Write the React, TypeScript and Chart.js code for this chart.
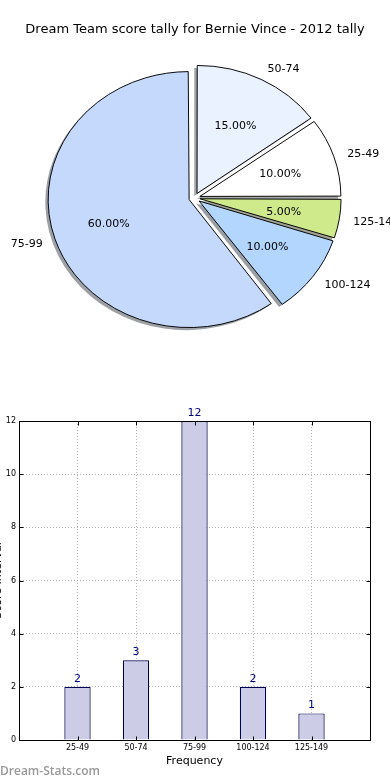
import { useEffect, useRef } from 'react';
import { Chart, registerables } from 'chart.js';

Chart.register(...registerables);

const FONT = '"DejaVu Sans", sans-serif';

const chartTitle = 'Dream Team score tally for Bernie Vince - 2012 tally';
const categories = ['25-49', '50-74', '75-99', '100-124', '125-149'];
const counts = [2, 3, 12, 2, 1];
const sliceColors = ['#ffffff', '#eaf2ff', '#c5d9fd', '#b3d6ff', '#cfea8a'];
const xTitle = 'Frequency';
const yTitle = 'Score Interval';
const yMax = 12;
const yStep = 2;
const watermark = 'Dream-Stats.com';

// pie geometry (matplotlib style exploded, slightly elliptical pie)
const RX = 141;
const SY = 128 / 141;
const EXPLODE = 0.04;
const SHADOW = 0.02;
const D = EXPLODE * RX;

const total = counts.reduce((a, b) => a + b, 0);
// Chart.js draws clockwise; reverse so the order runs counter-clockwise from east
const pieLabels = [...categories].reverse();
const pieValues = [...counts].reverse();
const pieColors = [...sliceColors].reverse();

function hexToRgb(h: string) {
  const n = parseInt(h.slice(1), 16);
  return [(n >> 16) & 255, (n >> 8) & 255, n & 255];
}

function arcInfo(arc: any) {
  const { startAngle, endAngle, x, y } = arc.getProps(['startAngle', 'endAngle', 'x', 'y']);
  const t = (arc.options.offset || 0) / 4;
  const mid = (startAngle + endAngle) / 2;
  return { ex: x + Math.cos(mid) * t, ey: y + Math.sin(mid) * t, mid, startAngle, endAngle, cx: x, cy: y };
}

const piePlugin = {
  id: 'piePlugin',
  afterDatasetsUpdate(chart: any) {
    // Chart.js enlarges narrow exploded slices; undo that so every slice has radius RX
    chart.getDatasetMeta(0).data.forEach((arc: any) => {
      const circ = arc.endAngle - arc.startAngle;
      const fix = 1 - Math.sin(Math.min(Math.PI, circ));
      arc.outerRadius = RX - D * fix;
    });
  },
  beforeDatasetsDraw(chart: any) {
    const ctx = chart.ctx;
    const arcs = chart.getDatasetMeta(0).data;
    const cx = arcs[0].x;
    const cy = arcs[0].y;
    ctx.save();
    ctx.translate(cx, cy);
    ctx.scale(1, SY);
    ctx.translate(-cx, -cy);
    arcs.forEach((arc: any, i: number) => {
      const s = arcInfo(arc);
      const ox = s.ex - SHADOW * RX;
      const oy = s.ey + SHADOW * RX;
      const [cr, cg, cb] = hexToRgb(pieColors[i]);
      ctx.beginPath();
      ctx.moveTo(ox, oy);
      ctx.arc(ox, oy, RX, s.startAngle, s.endAngle);
      ctx.closePath();
      ctx.fillStyle = `rgba(${Math.round(cr * 0.3)},${Math.round(cg * 0.3)},${Math.round(cb * 0.3)},0.5)`;
      ctx.fill();
    });
  },
  afterDatasetsDraw(chart: any) {
    const ctx = chart.ctx;
    ctx.restore();
    const arcs = chart.getDatasetMeta(0).data;
    ctx.save();
    ctx.font = `11px ${FONT}`;
    ctx.fillStyle = '#000';
    ctx.textBaseline = 'middle';
    arcs.forEach((arc: any, i: number) => {
      const s = arcInfo(arc);
      const toScreenY = (yy: number) => s.cy + (yy - s.cy) * SY;
      const c = Math.cos(s.mid);
      const sn = Math.sin(s.mid);
      const pct = ((pieValues[i] / total) * 100).toFixed(2) + '%';
      ctx.textAlign = 'center';
      ctx.fillText(pct, s.ex + c * 0.6 * RX, toScreenY(s.ey + sn * 0.6 * RX) + 1);
      ctx.textAlign = c > 0 ? 'left' : 'right';
      ctx.fillText(pieLabels[i], s.ex + c * 1.1 * RX + (c > 0 ? 0 : 1), toScreenY(s.ey + sn * 1.1 * RX) + 1);
    });
    ctx.restore();
  },
  afterDraw(chart: any) {
    const ctx = chart.ctx;
    ctx.save();
    ctx.font = `13px ${FONT}`;
    ctx.fillStyle = '#000';
    ctx.textAlign = 'center';
    ctx.textBaseline = 'middle';
    ctx.fillText(chartTitle, 195, 30);
    ctx.restore();
  },
};

const barPlugin = {
  id: 'barPlugin',
  afterDraw(chart: any) {
    const { ctx, chartArea: a, scales } = chart;
    const x = scales.x;
    const y = scales.y;
    ctx.save();
    ctx.strokeStyle = '#000';
    ctx.lineWidth = 1;
    const L = Math.round(a.left) + 0.5;
    const R = Math.round(a.right) + 0.5;
    const T = Math.round(a.top) + 0.5;
    const B = Math.round(a.bottom) + 0.5;
    ctx.strokeRect(L, T, R - L, B - T);
    ctx.beginPath();
    y.ticks.forEach((t: any) => {
      const py = Math.round(y.getPixelForValue(t.value)) + 0.5;
      ctx.moveTo(L, py);
      ctx.lineTo(L + 4, py);
      ctx.moveTo(R - 4, py);
      ctx.lineTo(R, py);
    });
    x.ticks.forEach((t: any) => {
      const px = Math.round(x.getPixelForValue(t.value)) + 0.5;
      ctx.moveTo(px, B);
      ctx.lineTo(px, B - 4);
      ctx.moveTo(px, T);
      ctx.lineTo(px, T + 4);
    });
    ctx.stroke();

    const meta = chart.getDatasetMeta(0);
    ctx.fillStyle = '#000080';
    ctx.font = `11px ${FONT}`;
    ctx.textAlign = 'center';
    ctx.textBaseline = 'alphabetic';
    meta.data.forEach((bar: any, i: number) => {
      ctx.fillText(String(counts[i]), bar.x, bar.y - 5);
    });

    ctx.fillStyle = '#000';
    ctx.font = `11px ${FONT}`;
    ctx.translate(1, (a.top + a.bottom) / 2);
    ctx.rotate(-Math.PI / 2);
    ctx.textAlign = 'center';
    ctx.fillText(yTitle, 0, 0);
    ctx.restore();
  },
};

export default function App() {
  const pieRef = useRef<HTMLCanvasElement>(null);
  const barRef = useRef<HTMLCanvasElement>(null);

  useEffect(() => {
    document.body.style.margin = '0';
    Chart.defaults.font.family = FONT;

    const pie = new Chart(pieRef.current!, {
      type: 'pie',
      data: {
        labels: pieLabels,
        datasets: [
          {
            data: pieValues,
            backgroundColor: pieColors,
            borderColor: '#000',
            borderWidth: 1,
            clip: false as any,
            hoverOffset: 0,
            offset: 4 * D,
          },
        ],
      },
      options: {
        responsive: false,
        animation: false,
        events: [],
        rotation: 90,
        radius: RX,
        layout: { padding: { top: 6, right: 1, left: 0, bottom: 0 } },
        plugins: {
          legend: { display: false },
          tooltip: { enabled: false },
          title: { display: false },
        },
      },
      plugins: [piePlugin],
    } as any);

    const gridOpts = {
      color: '#b4b4b4',
      lineWidth: 1,
      drawTicks: false,
      offset: false,
    };
    const borderOpts = { color: '#000', width: 1, dash: [1, 2] };

    const bar = new Chart(barRef.current!, {
      type: 'bar',
      data: {
        datasets: [
          {
            data: counts.map((v, i) => ({ x: i + 1, y: v })),
            backgroundColor: '#ccccE6',
            borderColor: '#000050',
            borderWidth: 1.2,
            barPercentage: 0.45,
            categoryPercentage: 1,
          },
        ],
      },
      options: {
        responsive: false,
        animation: false,
        events: [],
        layout: { padding: { top: 31, right: 20, left: 0, bottom: 0 } },
        scales: {
          x: {
            type: 'linear',
            min: 0,
            max: categories.length + 1,
            offset: false,
            z: 1,
            grid: gridOpts,
            border: borderOpts,
            ticks: {
              stepSize: 1,
              autoSkip: false,
              maxRotation: 0,
              padding: 3,
              color: '#000',
              font: { size: 8, family: FONT },
              callback: (v: any) => categories[Number(v) - 1] ?? '',
            },
            title: {
              display: true,
              text: xTitle,
              color: '#000',
              font: { size: 11, family: FONT },
              padding: { top: 0, bottom: 12 },
            },
            afterFit: (s: any) => {
              s.height = 40;
            },
          },
          y: {
            min: 0,
            max: yMax,
            z: 1,
            grid: gridOpts,
            border: borderOpts,
            ticks: {
              stepSize: yStep,
              padding: 3,
              color: '#000',
              font: { size: 8, family: FONT },
            },
            afterFit: (s: any) => {
              s.width = 19;
            },
          },
        },
        plugins: {
          legend: { display: false },
          tooltip: { enabled: false },
        },
      },
      plugins: [barPlugin],
    } as any);

    return () => {
      pie.destroy();
      bar.destroy();
    };
  }, []);

  return (
    <div style={{ position: 'relative', width: 390, height: 780, background: '#fff', overflow: 'hidden' }}>
      <canvas ref={pieRef} width={390} height={390} style={{ position: 'absolute', left: 0, top: 0 }} />
      <canvas ref={barRef} width={390} height={390} style={{ position: 'absolute', left: 0, top: 390 }} />
      <div
        style={{
          position: 'absolute',
          left: 0,
          top: 763,
          fontFamily: '"Open Sans", sans-serif',
          fontWeight: 600,
          fontSize: 12,
          lineHeight: '16px',
          color: '#999',
        }}
      >
        {watermark}
      </div>
    </div>
  );
}
